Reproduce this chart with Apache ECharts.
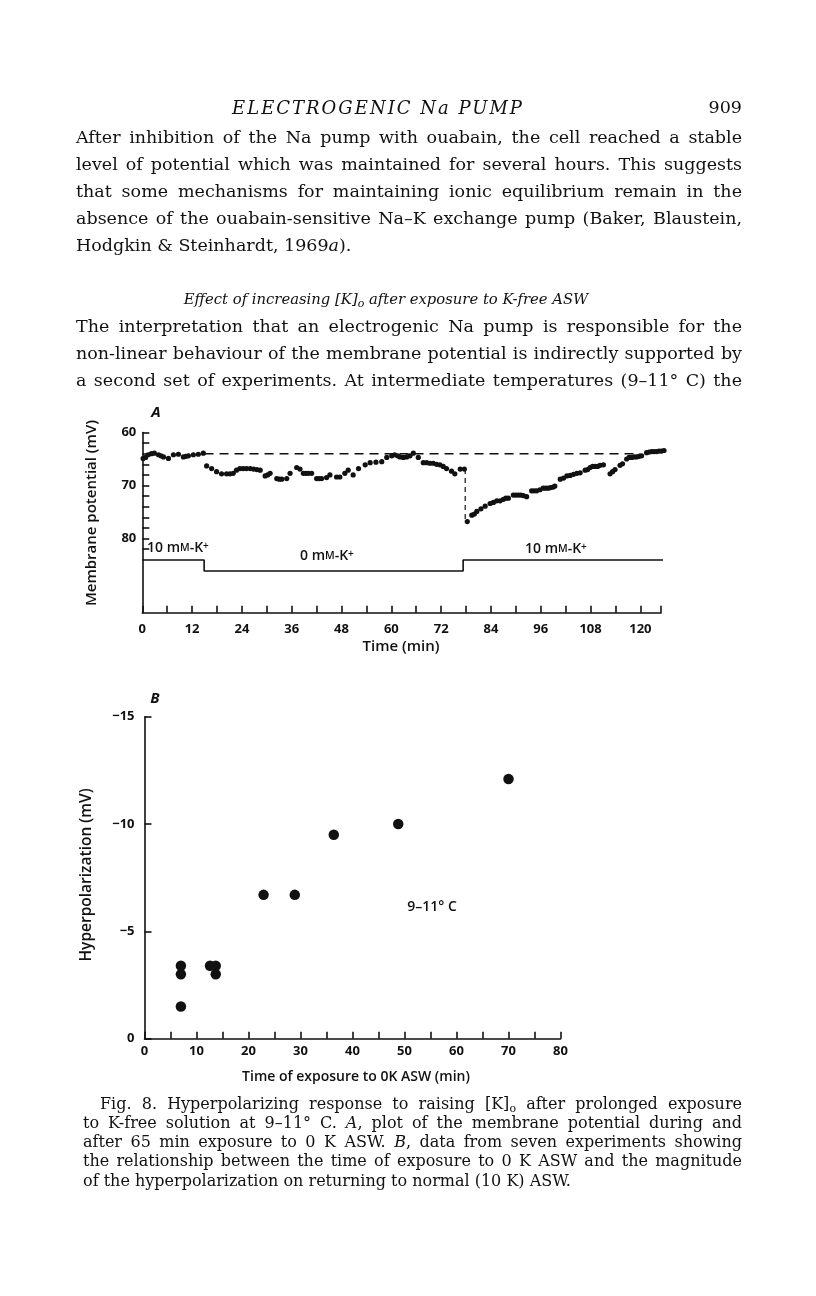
<!DOCTYPE html>
<html>
<head>
<meta charset="utf-8">
<script src="https://cdn.jsdelivr.net/npm/echarts@6/dist/echarts.min.js"></script>
<style>
body { margin:0; background:#fff; }
#page { position:relative; width:816px; height:1296px; overflow:hidden; color:#111; font-family:"DejaVu Serif", serif; }
#chart { position:absolute; left:0; top:0; width:816px; height:1296px; }
.ln { position:absolute; left:76px; width:666px; font-size:17.5px; line-height:27px; height:27px; text-align:justify; text-align-last:justify; }
.cap { position:absolute; left:83px; width:659px; font-size:16px; line-height:19px; height:19px; text-align:justify; text-align-last:justify; }
.last { text-align-last:left; }
.one { white-space:nowrap; text-align:center; text-align-last:center; }
sub { font-size:11px; vertical-align:-3px; line-height:0; }
</style>
</head>
<body>
<div id="page">
<div id="chart"></div>

<div class="ln one" style="left:178px;width:400px;top:94px;font-style:italic;font-size:18px;letter-spacing:2px">ELECTROGENIC Na PUMP</div>
<div class="ln" style="left:692px;width:50px;top:94px;text-align:right;text-align-last:right;font-size:17.5px">909</div>

<div class="ln" style="top:123.5px">After inhibition of the Na pump with ouabain, the cell reached a stable</div>
<div class="ln" style="top:150.5px">level of potential which was maintained for several hours. This suggests</div>
<div class="ln" style="top:177.5px">that some mechanisms for maintaining ionic equilibrium remain in the</div>
<div class="ln" style="top:204.5px">absence of the ouabain-sensitive Na–K exchange pump (Baker, Blaustein,</div>
<div class="ln last" style="top:231.5px">Hodgkin &amp; Steinhardt, 1969<i>a</i>).</div>

<div class="ln one" style="left:136px;width:500px;top:284.5px;font-style:italic;font-size:14.8px">Effect of increasing [K]<sub>o</sub> after exposure to K-free ASW</div>

<div class="ln" style="top:312.5px">The interpretation that an electrogenic Na pump is responsible for the</div>
<div class="ln" style="top:339.5px">non-linear behaviour of the membrane potential is indirectly supported by</div>
<div class="ln" style="top:366.5px">a second set of experiments. At intermediate temperatures (9–11° C) the</div>

<div class="cap" style="left:100px;width:642px;top:1093.5px">Fig. 8. Hyperpolarizing response to raising [K]<sub>o</sub> after prolonged exposure</div>
<div class="cap" style="top:1112.8px">to K-free solution at 9–11° C. <i>A</i>, plot of the membrane potential during and</div>
<div class="cap" style="top:1132.1px">after 65 min exposure to 0 K ASW. <i>B</i>, data from seven experiments showing</div>
<div class="cap" style="top:1151.4px">the relationship between the time of exposure to 0 K ASW and the magnitude</div>
<div class="cap last" style="top:1170.7px">of the hyperpolarization on returning to normal (10 K) ASW.</div>
</div>

<script>
// A: membrane potential (mV) against time (min)
var timeA = [0.2, 0.8, 1.4, 2.2, 2.9, 3.9, 4.5, 5.1, 6.3, 7.5, 8.7, 9.9, 10.5, 11.1, 12.3, 13.5, 14.7,
	15.5, 16.7, 17.9, 19.1, 20.3, 21.1, 21.9, 22.7, 23.5, 24.3, 25.1, 26.0, 26.8, 27.6, 28.4, 29.6, 30.2, 30.8,
	32.4, 33.0, 33.6, 34.8, 35.6, 37.2, 38.0, 38.8, 39.4, 40.0, 40.8, 42.0, 42.6, 43.2, 44.4, 45.2, 46.8, 47.6,
	48.8, 49.6, 50.8, 52.1, 53.7, 54.9, 56.3, 57.7, 58.9, 60.1, 60.8, 61.5, 62.1, 62.9, 63.7, 64.5, 65.3, 66.5,
	67.7, 68.5, 69.3, 70.1, 70.9, 71.7, 72.5, 73.3, 74.5, 75.3, 76.6, 77.6,
	78.3, 79.4, 80.0, 80.6, 81.6, 82.6, 83.8, 84.6, 85.4, 86.2, 87.0, 87.6, 88.2, 89.4, 90.0, 90.6, 91.2, 91.8,
	92.6, 93.8, 94.4, 95.0, 95.8, 96.6, 97.2, 97.8, 98.4, 99.0, 99.4, 100.7, 101.5, 102.3, 103.1, 103.9, 104.7,
	105.5, 106.7, 107.3, 107.9, 108.5, 109.1, 109.7, 110.3, 111.1, 112.7, 113.3, 113.9, 115.1, 115.7, 116.7,
	117.3, 117.9, 118.5, 119.1, 119.7, 120.3, 121.5, 122.1, 122.7, 123.3, 123.9, 124.5, 125.1, 125.7];
var potA = [64.9, 64.7, 64.2, 64.0, 63.9, 64.2, 64.4, 64.6, 64.9, 64.2, 64.1, 64.6, 64.5, 64.4, 64.2, 64.1, 63.9,
	66.3, 66.8, 67.4, 67.8, 67.8, 67.8, 67.7, 67.1, 66.8, 66.8, 66.8, 66.8, 66.9, 67.0, 67.1, 68.2, 68.0, 67.7,
	68.7, 68.8, 68.8, 68.7, 67.7, 66.6, 66.9, 67.7, 67.7, 67.7, 67.7, 68.7, 68.7, 68.7, 68.5, 68.0, 68.4, 68.4,
	67.7, 67.1, 68.0, 66.8, 66.1, 65.7, 65.6, 65.5, 64.7, 64.4, 64.2, 64.4, 64.6, 64.7, 64.6, 64.4, 63.9, 64.7,
	65.7, 65.7, 65.8, 65.8, 66.0, 66.1, 66.4, 66.8, 67.3, 67.8, 66.9, 66.9,
	76.8, 75.6, 75.4, 74.9, 74.4, 73.9, 73.4, 73.2, 72.9, 72.9, 72.6, 72.4, 72.4, 71.8, 71.8, 71.8, 71.8, 71.9,
	72.1, 71.0, 71.0, 71.0, 70.8, 70.5, 70.5, 70.5, 70.4, 70.3, 70.1, 68.8, 68.6, 68.2, 68.1, 67.9, 67.7,
	67.6, 67.1, 67.0, 66.6, 66.4, 66.4, 66.4, 66.2, 66.1, 67.8, 67.4, 67.0, 66.2, 65.9, 65.0,
	64.7, 64.7, 64.6, 64.6, 64.5, 64.4, 63.8, 63.7, 63.6, 63.6, 63.6, 63.5, 63.5, 63.4];
// bathing solution [K] (mM)
var kTime = [0, 14.9, 77.3, 125.5];
var kConc = [10, 0, 10, 10];
// dashed resting level and jump on return to 10 K
var restT = [15, 120];
var restV = 64;
var jumpT = 77.8;
var jumpV = [66.9, 76.4];

// B: hyperpolarization (mV) against exposure time (min)
var exposure = [7.0, 7.0, 7.0, 12.6, 13.7, 13.7, 22.9, 28.9, 36.4, 48.8, 70.0];
var hyperpol = [-3.4, -3.0, -1.5, -3.4, -3.4, -3.0, -6.7, -6.7, -9.5, -10.0, -12.1];

var ink = '#111111';
var sans = 'Open Sans';

function pairs(xs, ys) {
	var out = [];
	for (var i = 0; i < xs.length; i++) {
		out.push([xs[i], ys[i]]);
	}
	return out;
}

function tickAxis(extra) {
	var ax = {
		type: 'value',
		axisLine: {show: true, onZero: false, lineStyle: {color: ink, width: 1.6}},
		axisTick: {show: true, inside: true, length: 7, lineStyle: {color: ink, width: 1.6}},
		axisLabel: {color: ink, fontFamily: sans, fontWeight: 'bold', fontSize: 13},
		splitLine: {show: false}
	};
	for (var k in extra) ax[k] = extra[k];
	return ax;
}

function label(x, y, text, size, extra) {
	var st = {text: text, x: 0, y: 0, fill: ink, fontFamily: sans, fontSize: size, fontWeight: 600,
		align: 'center', verticalAlign: 'middle', textAlign: 'center', textVerticalAlign: 'middle'};
	for (var k in extra) st[k] = extra[k];
	return {type: 'text', x: x, y: y, style: st, silent: true};
}

function kLabel(x, y, num) {
	return {type: 'text', x: x, y: y, silent: true, style: {
		text: '{a|' + num + ' m}{b|M}{a|-K}{c|+}',
		align: 'left', verticalAlign: 'middle', textAlign: 'left', textVerticalAlign: 'middle',
		rich: {
			a: {fontFamily: sans, fontSize: 14, fontWeight: 600, fill: ink, color: ink},
			b: {fontFamily: sans, fontSize: 10.5, fontWeight: 600, fill: ink, color: ink},
			c: {fontFamily: sans, fontSize: 10, fontWeight: 600, fill: ink, color: ink, verticalAlign: 'top'}
		}
	}};
}

var option = {
	animation: false,
	grid: [
		{left: 142.3, top: 432.5, width: 518.8, height: 180.2},
		{left: 142.3, top: 432.5, width: 518.8, height: 116.6},
		{left: 144.5, top: 716.7, width: 416, height: 322}
	],
	xAxis: [
		tickAxis({gridIndex: 0, min: 0, max: 125, interval: 6,
			axisLabel: {margin: 10, color: ink, fontFamily: sans, fontWeight: 'bold', fontSize: 13,
				formatter: function (v) { return (v % 12 === 0 && v <= 120) ? String(v) : ''; }}}),
		{gridIndex: 1, type: 'value', min: 0, max: 125, show: false},
		tickAxis({gridIndex: 2, min: 0, max: 80, interval: 5,
			axisLabel: {margin: 6, color: ink, fontFamily: sans, fontWeight: 'bold', fontSize: 13,
				formatter: function (v) { return (v % 10 === 0) ? String(v) : ''; }}})
	],
	yAxis: [
		tickAxis({gridIndex: 0, inverse: true, min: 60, max: 94, axisTick: {show: false}, axisLabel: {show: false}}),
		{gridIndex: 0, type: 'value', min: -38, max: 126, show: false},
		tickAxis({gridIndex: 1, inverse: true, min: 60, max: 82, interval: 2,
			axisLine: {show: false},
			axisLabel: {margin: 6, color: ink, fontFamily: sans, fontWeight: 'bold', fontSize: 13,
				formatter: function (v) { return (v % 10 === 0) ? String(v) : ''; }}}),
		tickAxis({gridIndex: 2, inverse: true, min: -15, max: 0, interval: 5,
			axisLabel: {margin: 10, color: ink, fontFamily: sans, fontWeight: 'bold', fontSize: 13,
				formatter: function (v) { return String(v).replace('-', '\u2212'); }}})
	],
	series: [
		{type: 'scatter', xAxisIndex: 0, yAxisIndex: 0, data: pairs(timeA, potA), symbolSize: 5.2,
			itemStyle: {color: ink, opacity: 1}, clip: false, silent: true},
		{type: 'line', xAxisIndex: 0, yAxisIndex: 0, data: [[restT[0], restV], [restT[1], restV]],
			symbol: 'none', lineStyle: {color: ink, width: 1.4, type: [9, 6]}, silent: true},
		{type: 'line', xAxisIndex: 0, yAxisIndex: 0, data: [[jumpT, jumpV[0]], [jumpT, jumpV[1]]],
			symbol: 'none', lineStyle: {color: ink, width: 1.2, type: [5, 4]}, silent: true},
		{type: 'line', xAxisIndex: 0, yAxisIndex: 1, step: 'end', data: pairs(kTime, kConc),
			symbol: 'none', lineStyle: {color: ink, width: 1.6}, silent: true},
		{type: 'scatter', xAxisIndex: 2, yAxisIndex: 3, data: pairs(exposure, hyperpol), symbolSize: 10.5,
			itemStyle: {color: ink, opacity: 1}, clip: false, silent: true}
	],
	graphic: [
		label(156, 413, 'A', 15, {fontStyle: 'italic', fontWeight: 'bold'}),
		label(155, 699, 'B', 15, {fontStyle: 'italic', fontWeight: 'bold'}),
		label(92, 513, 'Membrane potential (mV)', 15, {}),
		label(401, 647, 'Time (min)', 15, {}),
		label(87, 875, 'Hyperpolarization (mV)', 15.5, {}),
		label(356, 1077, 'Time of exposure to 0K ASW (min)', 14, {}),
		label(432, 907, '9–11° C', 14, {}),
		kLabel(147, 548, '10'),
		kLabel(300, 556, '0'),
		kLabel(525, 549, '10')
	]
};

// rotate the two vertical axis titles
option.graphic[2].rotation = Math.PI / 2;
option.graphic[4].rotation = Math.PI / 2;

var myChart = echarts.init(document.getElementById('chart'));
myChart.setOption(option);
</script>
</body>
</html>
